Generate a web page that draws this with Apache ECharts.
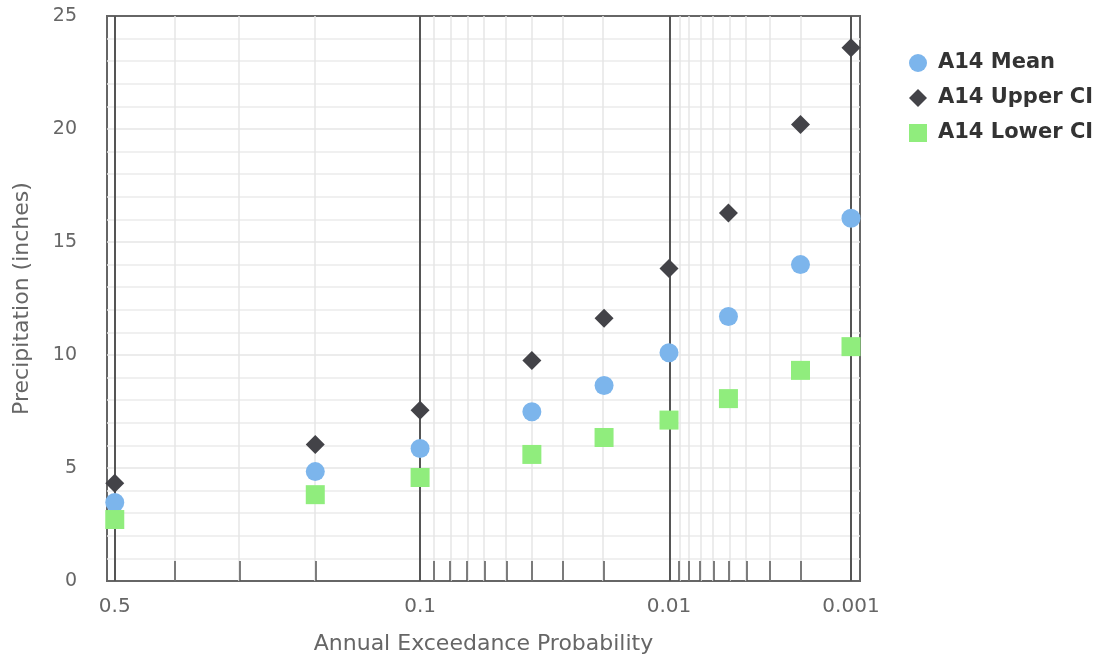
<!DOCTYPE html>
<html>
<head>
<meta charset="utf-8">
<script src="https://cdn.jsdelivr.net/npm/echarts@6/dist/echarts.min.js"></script>
<style>html,body{margin:0;padding:0;background:#fff}#c{width:1100px;height:662px}</style>
</head>
<body>
<div id="c"></div>
<script>
// ---- data ----
const aep = [0.5, 0.2, 0.1, 0.04, 0.02, 0.01, 0.005, 0.002, 0.001];
const meanVals = [3.47, 4.84, 5.86, 7.49, 8.65, 10.1, 11.7, 14.0, 16.05];
const upperVals = [4.32, 6.04, 7.55, 9.76, 11.63, 13.83, 16.28, 20.2, 23.6];
const lowerVals = [2.72, 3.82, 4.58, 5.6, 6.35, 7.12, 8.07, 9.32, 10.37];
const majorTicks = [0.5, 0.1, 0.01, 0.001];
const majorLabels = ['0.5', '0.1', '0.01', '0.001'];
const minorTicks = [0.4, 0.3, 0.2, 0.09, 0.08, 0.07, 0.06, 0.05, 0.04, 0.03, 0.02,
  0.009, 0.008, 0.007, 0.006, 0.005, 0.004, 0.003, 0.002];
const axisProbRange = [0.513, 0.00088];
const seriesNames = ['A14 Mean', 'A14 Upper CI', 'A14 Lower CI'];
const seriesColors = ['#7cb5ec', '#434348', '#90ed7d'];

// ---- normal-probability axis transform (exceedance p -> standard normal z) ----
function normInv(p) {
  const a = [-3.969683028665376e+01, 2.209460984245205e+02, -2.759285104469687e+02, 1.383577518672690e+02, -3.066479806614716e+01, 2.506628277459239e+00];
  const b = [-5.447609879822406e+01, 1.615858368580409e+02, -1.556989798598866e+02, 6.680131188771972e+01, -1.328068155288572e+01];
  const c = [-7.784894002430293e-03, -3.223964580411365e-01, -2.400758277161838e+00, -2.549732539343734e+00, 4.374664141464968e+00, 2.938163982698783e+00];
  const d = [7.784695709041462e-03, 3.224671290700398e-01, 2.445134137142996e+00, 3.754408661907416e+00];
  const pl = 0.02425, ph = 1 - pl;
  let q, r;
  if (p < pl) {
    q = Math.sqrt(-2 * Math.log(p));
    return (((((c[0]*q+c[1])*q+c[2])*q+c[3])*q+c[4])*q+c[5]) / ((((d[0]*q+d[1])*q+d[2])*q+d[3])*q+1);
  } else if (p <= ph) {
    q = p - 0.5; r = q * q;
    return (((((a[0]*r+a[1])*r+a[2])*r+a[3])*r+a[4])*r+a[5])*q / (((((b[0]*r+b[1])*r+b[2])*r+b[3])*r+b[4])*r+1);
  } else {
    q = Math.sqrt(-2 * Math.log(1 - p));
    return -(((((c[0]*q+c[1])*q+c[2])*q+c[3])*q+c[4])*q+c[5]) / ((((d[0]*q+d[1])*q+d[2])*q+d[3])*q+1);
  }
}
const toZ = p => normInv(1 - p);

const pairs = vals => aep.map((p, i) => [toZ(p), vals[i]]);
const majorZ = majorTicks.map(toZ);
const minorZ = minorTicks.map(toZ);

const FONT = 'DejaVu Sans';
const chart = echarts.init(document.getElementById('c'), null, {renderer: 'canvas'});
chart.setOption({
  animation: false,
  backgroundColor: '#ffffff',
  grid: {left: 107, top: 16, right: 240, bottom: 81, show: true, borderColor: '#666666', borderWidth: 2, backgroundColor: 'transparent'},
  legend: {
    orient: 'vertical', left: 904, top: 47, itemWidth: 18, itemHeight: 18, itemGap: 13,
    textStyle: {fontFamily: FONT, fontWeight: 'bold', fontSize: 21, color: '#333333', lineHeight: 22, padding: [0, 0, 0, 6]},
    data: [{name: seriesNames[0], icon: 'circle'}, {name: seriesNames[1], icon: 'diamond'}, {name: seriesNames[2], icon: 'rect'}]
  },
  xAxis: {
    type: 'value', z: 2, min: toZ(axisProbRange[0]), max: toZ(axisProbRange[1]),
    name: 'Annual Exceedance Probability', nameLocation: 'middle', nameGap: 52,
    nameTextStyle: {fontFamily: FONT, fontSize: 22, color: '#666666'},
    axisLine: {show: false},
    axisTick: {show: true, customValues: minorZ, inside: true, length: 20, lineStyle: {color: '#555555', width: 1.5}},
    axisLabel: {customValues: majorZ, margin: 16, fontFamily: FONT, fontSize: 20, color: '#666666',
      formatter: v => { let bi = 0, bd = Infinity; majorZ.forEach((z, i) => { const dd = Math.abs(z - v); if (dd < bd) { bd = dd; bi = i; } }); return majorLabels[bi]; }},
    splitLine: {show: false}
  },
  yAxis: {
    type: 'value', min: 0, max: 25, interval: 5,
    name: 'Precipitation (inches)', nameLocation: 'middle', nameGap: 74,
    nameTextStyle: {fontFamily: FONT, fontSize: 22, color: '#666666'},
    axisLine: {show: false}, axisTick: {show: false},
    axisLabel: {margin: 30, fontFamily: FONT, fontSize: 19, color: '#666666'},
    splitLine: {show: true, showMinLine: false, showMaxLine: false, lineStyle: {color: '#e6e6e6', width: 1.5}},
    minorTick: {show: false, splitNumber: 5},
    minorSplitLine: {show: true, lineStyle: {color: '#ececec', width: 1.5}}
  },
  series: [
    {
      name: 'grid-lines', type: 'scatter', data: [], z: 1, silent: true, legendHoverLink: false,
      markLine: {
        silent: true, symbol: ['none', 'none'], label: {show: false}, animation: false, z: 1,
        data: minorZ.map(z => ({xAxis: z, lineStyle: {color: '#e6e6e6', width: 1.5, type: 'solid'}}))
          .concat(majorZ.map(z => ({xAxis: z, lineStyle: {color: '#555555', width: 2, type: 'solid'}})))
      }
    },
    {name: seriesNames[0], type: 'scatter', symbol: 'circle', symbolSize: 19, z: 3, itemStyle: {color: seriesColors[0], opacity: 1}, data: pairs(meanVals)},
    {name: seriesNames[1], type: 'scatter', symbol: 'diamond', symbolSize: 19, z: 3, itemStyle: {color: seriesColors[1], opacity: 1}, data: pairs(upperVals)},
    {name: seriesNames[2], type: 'scatter', symbol: 'rect', symbolSize: 19, z: 3, itemStyle: {color: seriesColors[2], opacity: 1}, data: pairs(lowerVals)}
  ]
});
</script>
</body>
</html>
